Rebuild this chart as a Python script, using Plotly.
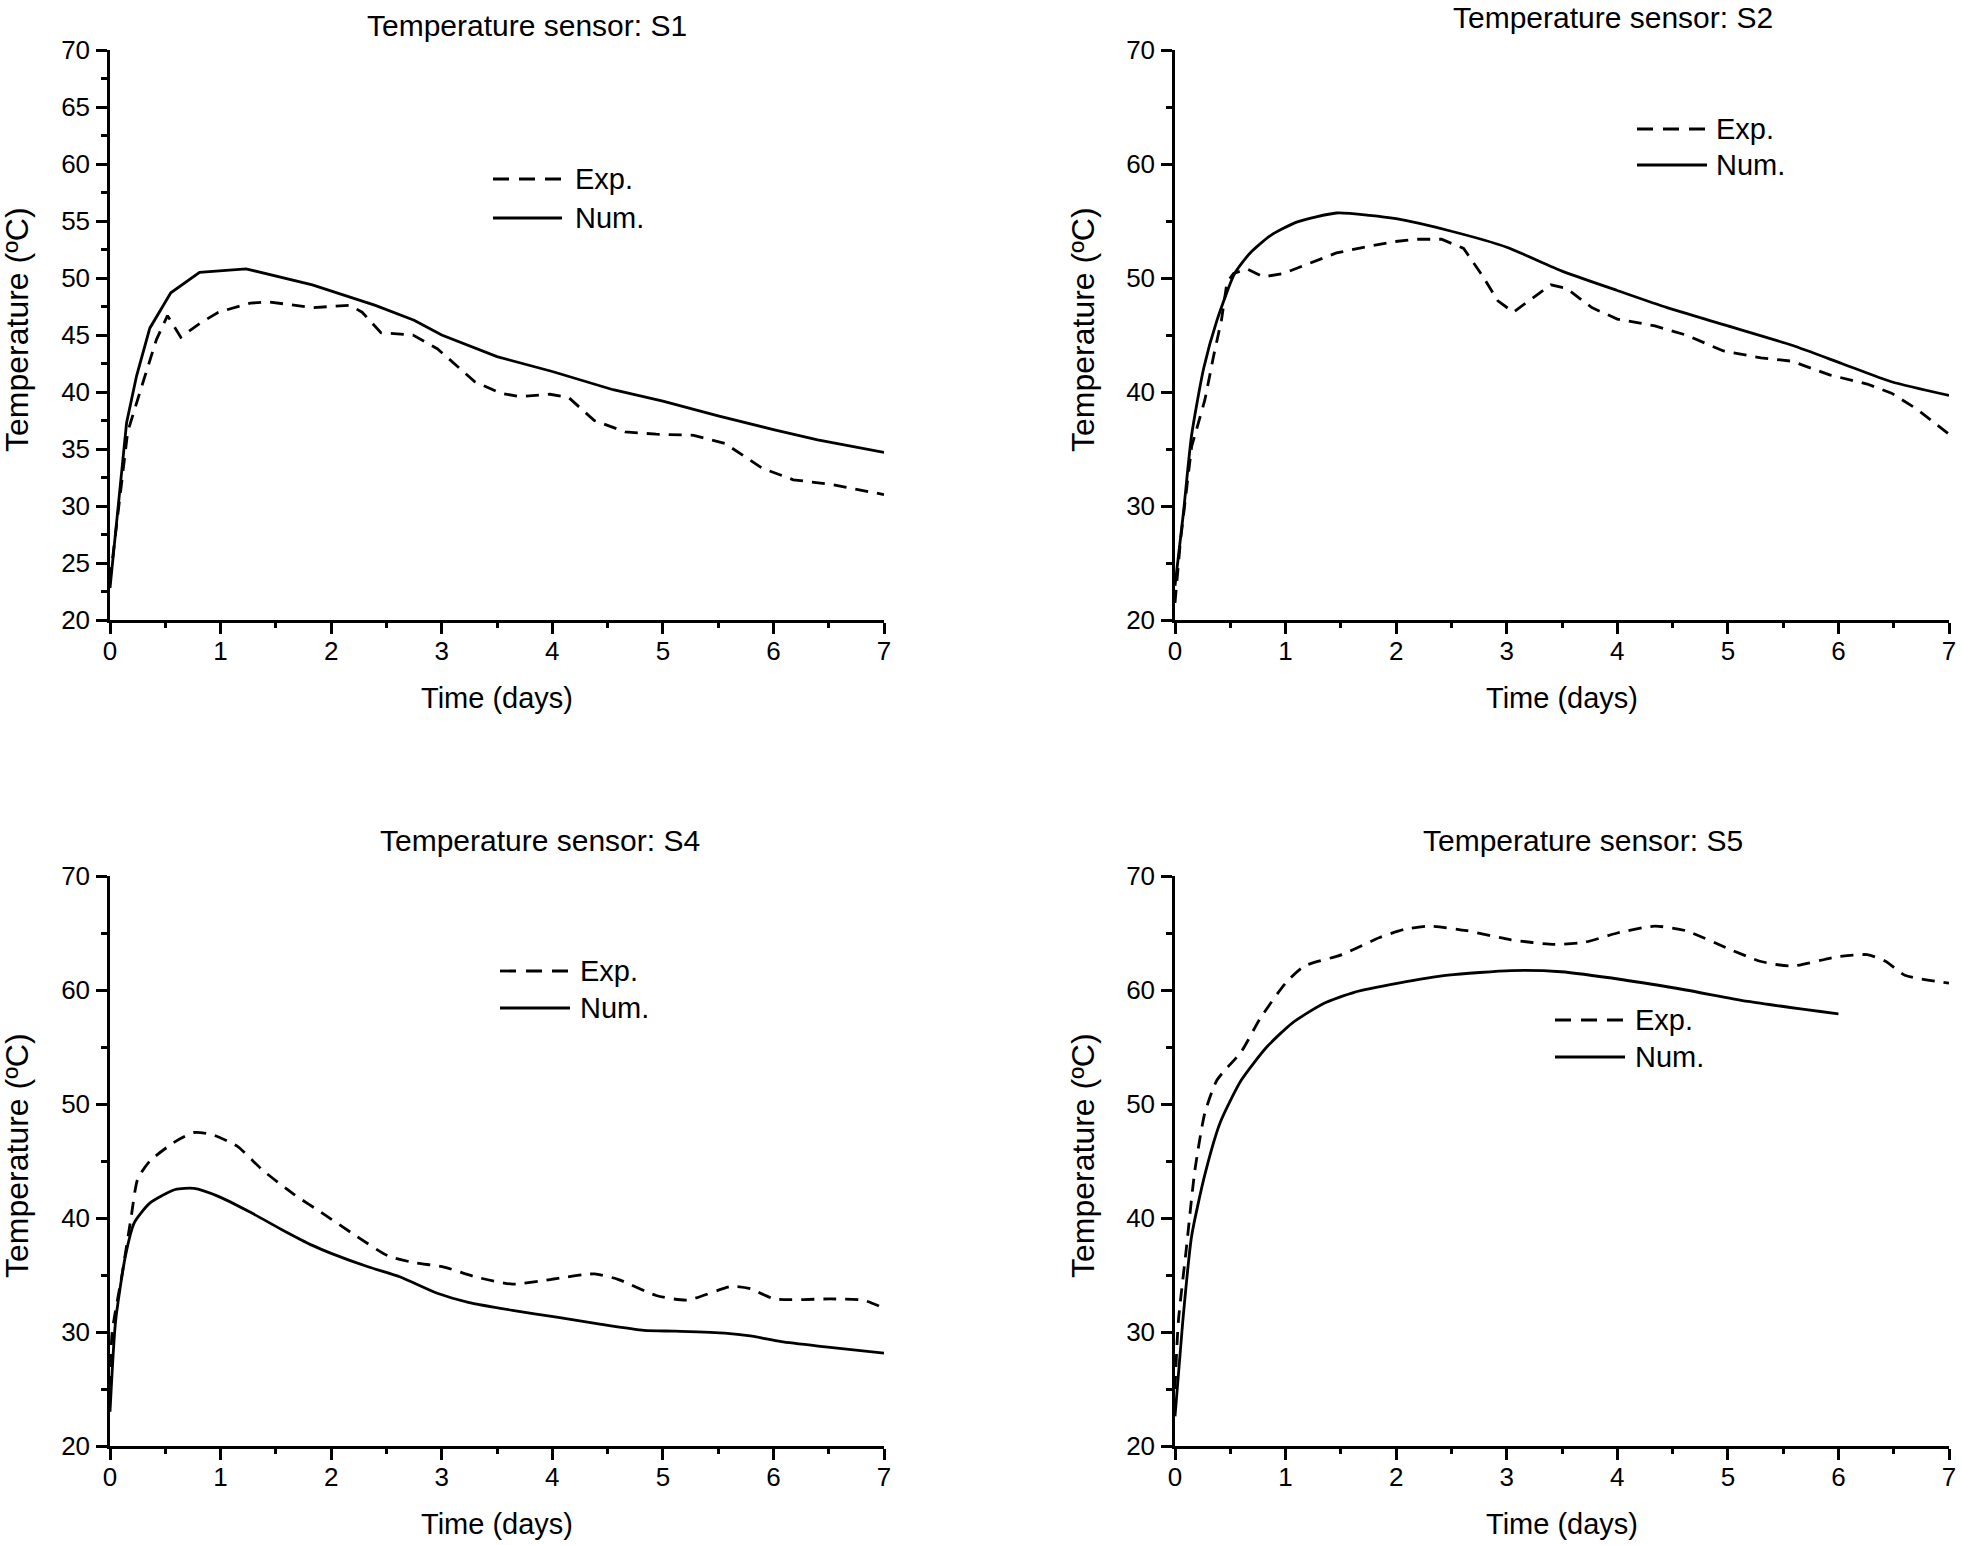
import plotly.graph_objects as go

W, H = 1961, 1545
FONT = "Liberation Sans, Arial, sans-serif"

# ---------------- data (time in days, temperature in ºC) ----------------
s1_exp_t = [0, 0.08, 0.16, 0.3, 0.42, 0.52, 0.64, 0.81, 0.98, 1.27, 1.44, 1.83, 2.17, 2.28, 2.45,
            2.74, 2.96, 3.3, 3.53, 3.7, 3.98, 4.15, 4.38, 4.66, 4.94, 5.28, 5.56, 5.9, 6.18, 6.52, 7.0]
s1_exp_T = [23.5, 30.0, 36.5, 40.9, 44.6, 46.7, 44.8, 46.0, 47.0, 47.8, 47.9, 47.4, 47.6, 47.0, 45.2,
            45.0, 43.8, 40.9, 39.9, 39.6, 39.8, 39.5, 37.5, 36.5, 36.3, 36.2, 35.5, 33.3, 32.3, 31.9, 31.0]
s1_num_t = [0, 0.15, 0.24, 0.36, 0.55, 0.81, 1.23, 1.83, 2.4, 2.75, 3.0, 3.5, 4.0, 4.55, 5.0, 5.5,
            6.0, 6.4, 7.0]
s1_num_T = [22.8, 37.3, 41.4, 45.6, 48.7, 50.5, 50.8, 49.4, 47.6, 46.3, 45.0, 43.1, 41.8, 40.2, 39.2,
            37.9, 36.7, 35.8, 34.7]

s2_exp_t = [0, 0.05, 0.15, 0.27, 0.35, 0.42, 0.47, 0.53, 0.65, 0.8, 0.98, 1.22, 1.46, 1.76, 1.99,
            2.19, 2.41, 2.61, 2.78, 2.92, 3.06, 3.2, 3.4, 3.54, 3.77, 4.0, 4.34, 4.62, 4.96, 5.3,
            5.58, 5.92, 6.26, 6.48, 6.71, 7.0]
s2_exp_T = [21.5, 27.0, 35.2, 39.3, 43.2, 46.3, 49.6, 50.4, 50.8, 50.1, 50.4, 51.3, 52.2, 52.8, 53.2,
            53.4, 53.4, 52.6, 50.2, 48.0, 47.0, 48.0, 49.4, 49.1, 47.4, 46.4, 45.8, 45.0, 43.6, 43.0,
            42.7, 41.5, 40.7, 39.9, 38.5, 36.3]
s2_num_t = [0, 0.075, 0.15, 0.26, 0.38, 0.54, 0.68, 0.86, 1.1, 1.46, 1.76, 2.0, 2.5, 3.0, 3.5, 4.0,
            4.45, 5.0, 5.58, 6.03, 6.48, 7.0]
s2_num_T = [23.0, 29.3, 36.2, 42.1, 46.3, 50.4, 52.2, 53.7, 54.9, 55.7, 55.5, 55.2, 54.1, 52.7, 50.6,
            48.9, 47.4, 45.8, 44.1, 42.5, 40.9, 39.7]

s4_exp_t = [0, 0.02, 0.11, 0.19, 0.25, 0.36, 0.59, 0.76, 0.93, 1.15, 1.38, 1.66, 1.94, 2.23, 2.51,
            2.74, 3.02, 3.3, 3.64, 3.98, 4.38, 4.6, 4.94, 5.22, 5.62, 5.79, 6.01, 6.52, 6.81, 7.0]
s4_exp_T = [25.0, 30.0, 35.1, 40.0, 43.4, 45.0, 46.7, 47.5, 47.3, 46.3, 44.2, 42.1, 40.3, 38.4, 36.7,
            36.1, 35.7, 34.85, 34.2, 34.6, 35.1, 34.6, 33.2, 32.8, 34.0, 33.8, 32.9, 32.9, 32.8, 32.1]
s4_num_t = [0, 0.05, 0.14, 0.22, 0.36, 0.59, 0.76, 0.98, 1.27, 1.55, 1.83, 2.0, 2.34, 2.62, 2.96,
            3.24, 3.64, 4.04, 4.43, 4.83, 5.11, 5.56, 5.79, 6.07, 6.47, 7.0]
s4_num_T = [23.0, 30.9, 36.7, 39.6, 41.3, 42.5, 42.6, 41.9, 40.5, 39.0, 37.6, 36.9, 35.7, 34.85, 33.4,
            32.6, 31.9, 31.3, 30.7, 30.15, 30.07, 29.9, 29.65, 29.15, 28.7, 28.15]

s5_exp_t = [0, 0.03, 0.1, 0.18, 0.27, 0.38, 0.6, 0.77, 1.0, 1.17, 1.51, 1.85, 2.07, 2.3, 2.64, 3.04,
            3.43, 3.71, 4.0, 4.34, 4.62, 5.01, 5.3, 5.58, 5.98, 6.26, 6.43, 6.6, 7.0]
s5_exp_T = [25.0, 30.9, 37.1, 44.2, 49.2, 52.1, 54.6, 57.5, 60.6, 62.1, 63.1, 64.6, 65.3, 65.6, 65.2,
            64.4, 64.0, 64.2, 65.0, 65.6, 65.2, 63.6, 62.5, 62.1, 62.9, 63.1, 62.5, 61.3, 60.6]
s5_num_t = [0, 0.07, 0.15, 0.27, 0.41, 0.6, 0.83, 1.06, 1.34, 1.62, 2.02, 2.47, 3.04, 3.49, 4.05,
            4.62, 5.18, 6.0]
s5_num_T = [22.6, 30.9, 38.4, 43.8, 48.4, 52.1, 55.0, 57.1, 58.8, 59.8, 60.6, 61.3, 61.7, 61.6, 60.9,
            60.0, 59.0, 57.9]

sensors = ["S1", "S2", "S4", "S5"]
x_ticks = [0, 1, 2, 3, 4, 5, 6, 7]
x_range = [0, 7]
y_range = [20, 70]
y_dtick = [5, 10, 10, 10]
legend_labels = ["Exp.", "Num."]
x_title = "Time (days)"
y_title = "Temperature (ºC)"

# ---------------- layout geometry (pixels) ----------------
def px(x):
    return x / W

def py(y):
    return 1 - y / H

panels = [
    dict(x0=110, x1=884, yt=50, yb=620, tx=527, ty=25, lg=(493, 562, 573, 179, 218), ytx=17),
    dict(x0=1175, x1=1949, yt=50, yb=620, tx=1613, ty=18, lg=(1637, 1707, 1714, 129, 165), ytx=1083),
    dict(x0=110, x1=884, yt=876, yb=1446, tx=540, ty=840, lg=(500, 570, 578, 971, 1008), ytx=17),
    dict(x0=1175, x1=1949, yt=876, yb=1446, tx=1583, ty=840, lg=(1555, 1625, 1633, 1020, 1057), ytx=1083),
]

series = [
    (s1_exp_t, s1_exp_T, s1_num_t, s1_num_T),
    (s2_exp_t, s2_exp_T, s2_num_t, s2_num_T),
    (s4_exp_t, s4_exp_T, s4_num_t, s4_num_T),
    (s5_exp_t, s5_exp_T, s5_num_t, s5_num_T),
]

DASH = "13px,9px"
LEG_DASH = "16px,10px"
LW = 2.8
fig = go.Figure()
layout = dict(
    width=W, height=H, margin=dict(l=0, r=0, t=0, b=0, autoexpand=False),
    paper_bgcolor="white", plot_bgcolor="white", showlegend=False,
    font=dict(family=FONT, color="black"),
)
annotations = []
shapes = []

for i, (p, s, name) in enumerate(zip(panels, series, sensors)):
    k = "" if i == 0 else str(i + 1)
    et, eT, nt, nT = s
    num_shape = "linear" if i == 0 else "spline"
    exp_shape = "linear" if i in (0, 1) else "spline"
    fig.add_trace(go.Scatter(x=et, y=eT, mode="lines", name=legend_labels[0],
                             line=dict(color="black", width=LW, dash=DASH, shape=exp_shape,
                                       smoothing=0.6),
                             xaxis="x" + k, yaxis="y" + k))
    fig.add_trace(go.Scatter(x=nt, y=nT, mode="lines", name=legend_labels[1],
                             line=dict(color="black", width=LW, shape=num_shape, smoothing=0.6),
                             xaxis="x" + k, yaxis="y" + k))
    axcommon = dict(showline=True, linecolor="black", linewidth=2.5, ticks="outside",
                    tickwidth=2.5, ticklen=11, tickcolor="black", showgrid=False,
                    zeroline=False, automargin=False,
                    tickfont=dict(family=FONT, size=26, color="black"))
    layout["xaxis" + k] = dict(domain=[px(p["x0"]), px(p["x1"])], range=x_range,
                               tickvals=x_ticks, anchor="y" + k,
                               minor=dict(dtick=0.5, tick0=0, ticks="outside", ticklen=5,
                                          tickwidth=2.5, tickcolor="black"),
                               ticklabelstandoff=-5,
                               **axcommon)
    layout["yaxis" + k] = dict(domain=[py(p["yb"]), py(p["yt"])], range=y_range,
                               dtick=y_dtick[i], tick0=20, anchor="x" + k,
                               minor=dict(dtick=y_dtick[i] / 2, tick0=20, ticks="outside",
                                          ticklen=6, tickwidth=2.5, tickcolor="black"),
                               ticklabelstandoff=1,
                               **axcommon)
    annotations.append(dict(text="Temperature sensor: " + name, x=px(p["tx"]), y=py(p["ty"]),
                            xref="paper", yref="paper", showarrow=False, xanchor="center",
                            yanchor="middle", font=dict(family=FONT, size=30, color="black")))
    annotations.append(dict(text=x_title, x=px((p["x0"] + p["x1"]) / 2), y=py(p["yb"] + 78),
                            xref="paper", yref="paper", showarrow=False, xanchor="center",
                            yanchor="middle", font=dict(family=FONT, size=29, color="black")))
    annotations.append(dict(text=y_title, x=px(p["ytx"]), y=py((p["yt"] + p["yb"]) / 2 - 5),
                            xref="paper", yref="paper", showarrow=False, xanchor="center",
                            yanchor="middle", textangle=-90,
                            font=dict(family=FONT, size=32, color="black")))
    sx0, sx1, tx, ye, yn = p["lg"]
    shapes.append(dict(type="line", xref="paper", yref="paper", x0=px(sx0), x1=px(sx1),
                       y0=py(ye), y1=py(ye), line=dict(color="black", width=LW, dash=LEG_DASH)))
    shapes.append(dict(type="line", xref="paper", yref="paper", x0=px(sx0), x1=px(sx1),
                       y0=py(yn), y1=py(yn), line=dict(color="black", width=LW)))
    for lab, yy in zip(legend_labels, (ye, yn)):
        annotations.append(dict(text=lab, x=px(tx), y=py(yy), xref="paper", yref="paper",
                                showarrow=False, xanchor="left", yanchor="middle",
                                font=dict(family=FONT, size=29, color="black")))

layout["annotations"] = annotations
layout["shapes"] = shapes
fig.update_layout(**layout)
fig.write_html("out.html", config={"displayModeBar": False},
               post_script="document.body.style.margin='0px';document.body.style.overflow='hidden';")
